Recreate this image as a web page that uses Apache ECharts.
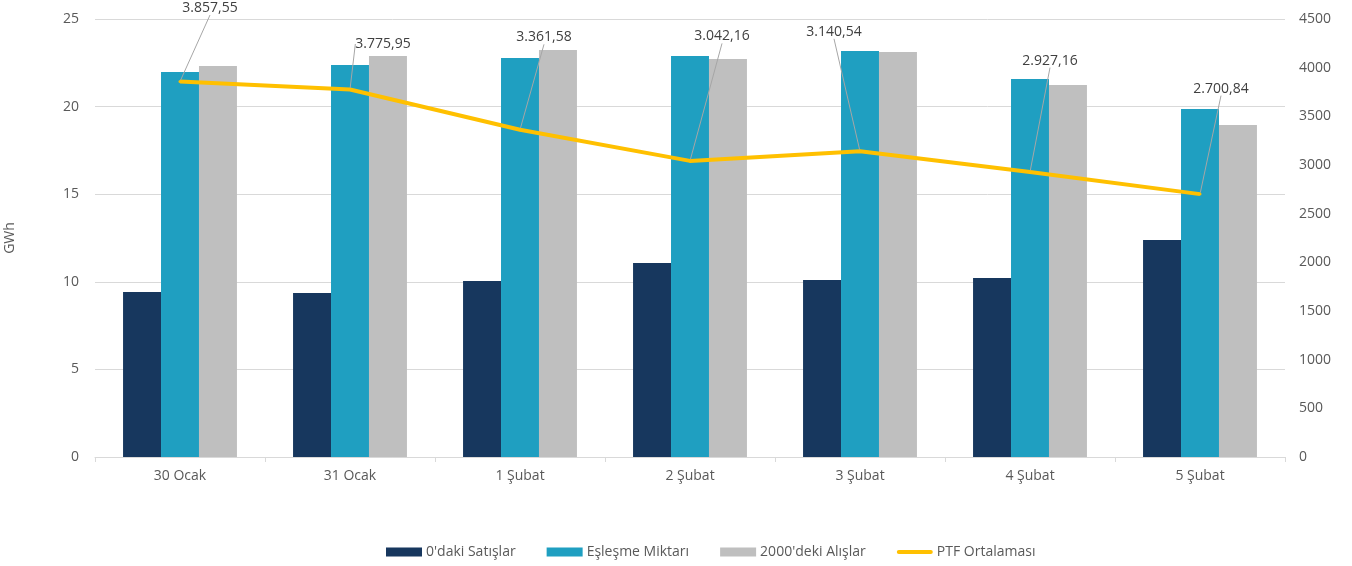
<!DOCTYPE html>
<html><head><meta charset="utf-8">
<script src="https://cdn.jsdelivr.net/npm/echarts@6/dist/echarts.min.js"></script>
<style>html,body{margin:0;padding:0;background:#fff}#c{width:1352px;height:566px}</style>
</head><body><div id="c"></div>
<script>
const categories = ['30 Ocak','31 Ocak','1 Şubat','2 Şubat','3 Şubat','4 Şubat','5 Şubat'];
const satislar = [9.42, 9.36, 10.05, 11.07, 10.10, 10.22, 12.39];
const eslesme = [21.97, 22.37, 22.77, 22.89, 23.17, 21.58, 19.86];
const alislar = [22.32, 22.89, 23.23, 22.72, 23.12, 21.23, 18.95];
const ptf = [3857.55, 3775.95, 3361.58, 3042.16, 3140.54, 2927.16, 2700.84];
const labelOffsets = [[30,-60],[33,-32],[24,-79],[32,-111],[-26,-106],[20,-98],[21,-92]];

function trFmt(v){
  const parts = v.toFixed(2).split('.');
  const intp = parts[0].replace(/\B(?=(\d{3})+(?!\d))/g,'.');
  return intp + ',' + parts[1];
}
const FONT = 'Open Sans';
const chart = echarts.init(document.getElementById('c'));
chart.setOption({
  animation:false,
  textStyle:{fontFamily:FONT},
  grid:{left:95,right:67,top:19,bottom:109,outerBoundsMode:'none',containLabel:false},
  legend:{
    left:381, bottom:2, itemWidth:36, itemHeight:9, itemGap:31,
    textStyle:{color:'#595959',fontSize:14,fontFamily:FONT,padding:[0,0,0,-1]},
    data:[{name:"0'daki Satışlar",icon:'rect'},{name:'Eşleşme Miktarı',icon:'rect'},{name:"2000'deki Alışlar",icon:'rect'},
          {name:'PTF Ortalaması',icon:'path://M2 0H34A2 2 0 0 1 34 4H2A2 2 0 0 1 2 0Z'}]
  },
  xAxis:{
    type:'category', data:categories,
    axisLine:{lineStyle:{color:'#d9d9d9'}},
    axisTick:{show:true,length:5,lineStyle:{color:'#d9d9d9'}},
    axisLabel:{color:'#595959',fontSize:14,margin:12}
  },
  yAxis:[
    {type:'value',min:0,max:25,interval:5,name:'GWh',nameLocation:'middle',nameGap:78,nameRotate:90,
     nameTextStyle:{color:'#595959',fontSize:14},
     axisLabel:{color:'#595959',fontSize:14,margin:16},
     axisLine:{show:false},axisTick:{show:false},
     splitLine:{lineStyle:{color:'#d9d9d9'}}},
    {type:'value',min:0,max:4500,interval:500,position:'right',
     axisLabel:{color:'#595959',fontSize:14,margin:14,formatter:v=>String(v)},
     axisLine:{show:false},axisTick:{show:false},splitLine:{show:false}}
  ],
  series:[
    {name:"0'daki Satışlar",type:'bar',data:satislar,barGap:'0%',barCategoryGap:'33%',itemStyle:{color:'#17375e'}},
    {name:'Eşleşme Miktarı',type:'bar',data:eslesme,barGap:'0%',barCategoryGap:'33%',itemStyle:{color:'#1f9fc1'}},
    {name:"2000'deki Alışlar",type:'bar',data:alislar,barGap:'0%',barCategoryGap:'33%',itemStyle:{color:'#bfbfbf'}},
    {name:'PTF Ortalaması',type:'line',yAxisIndex:1,data:ptf,symbol:'circle',symbolSize:3,showSymbol:true,
     lineStyle:{color:'#ffc000',width:4},itemStyle:{color:'#ffc000'},
     label:{show:true,position:'top',distance:5,color:'#404040',fontSize:14,formatter:p=>trFmt(p.value)},
     labelLine:{show:true,lineStyle:{color:'#a6a6a6',width:1}},
     labelLayout:function(p){const o=labelOffsets[p.dataIndex];return {dx:o[0],dy:o[1]};}
    }
  ]
});
</script></body></html>
